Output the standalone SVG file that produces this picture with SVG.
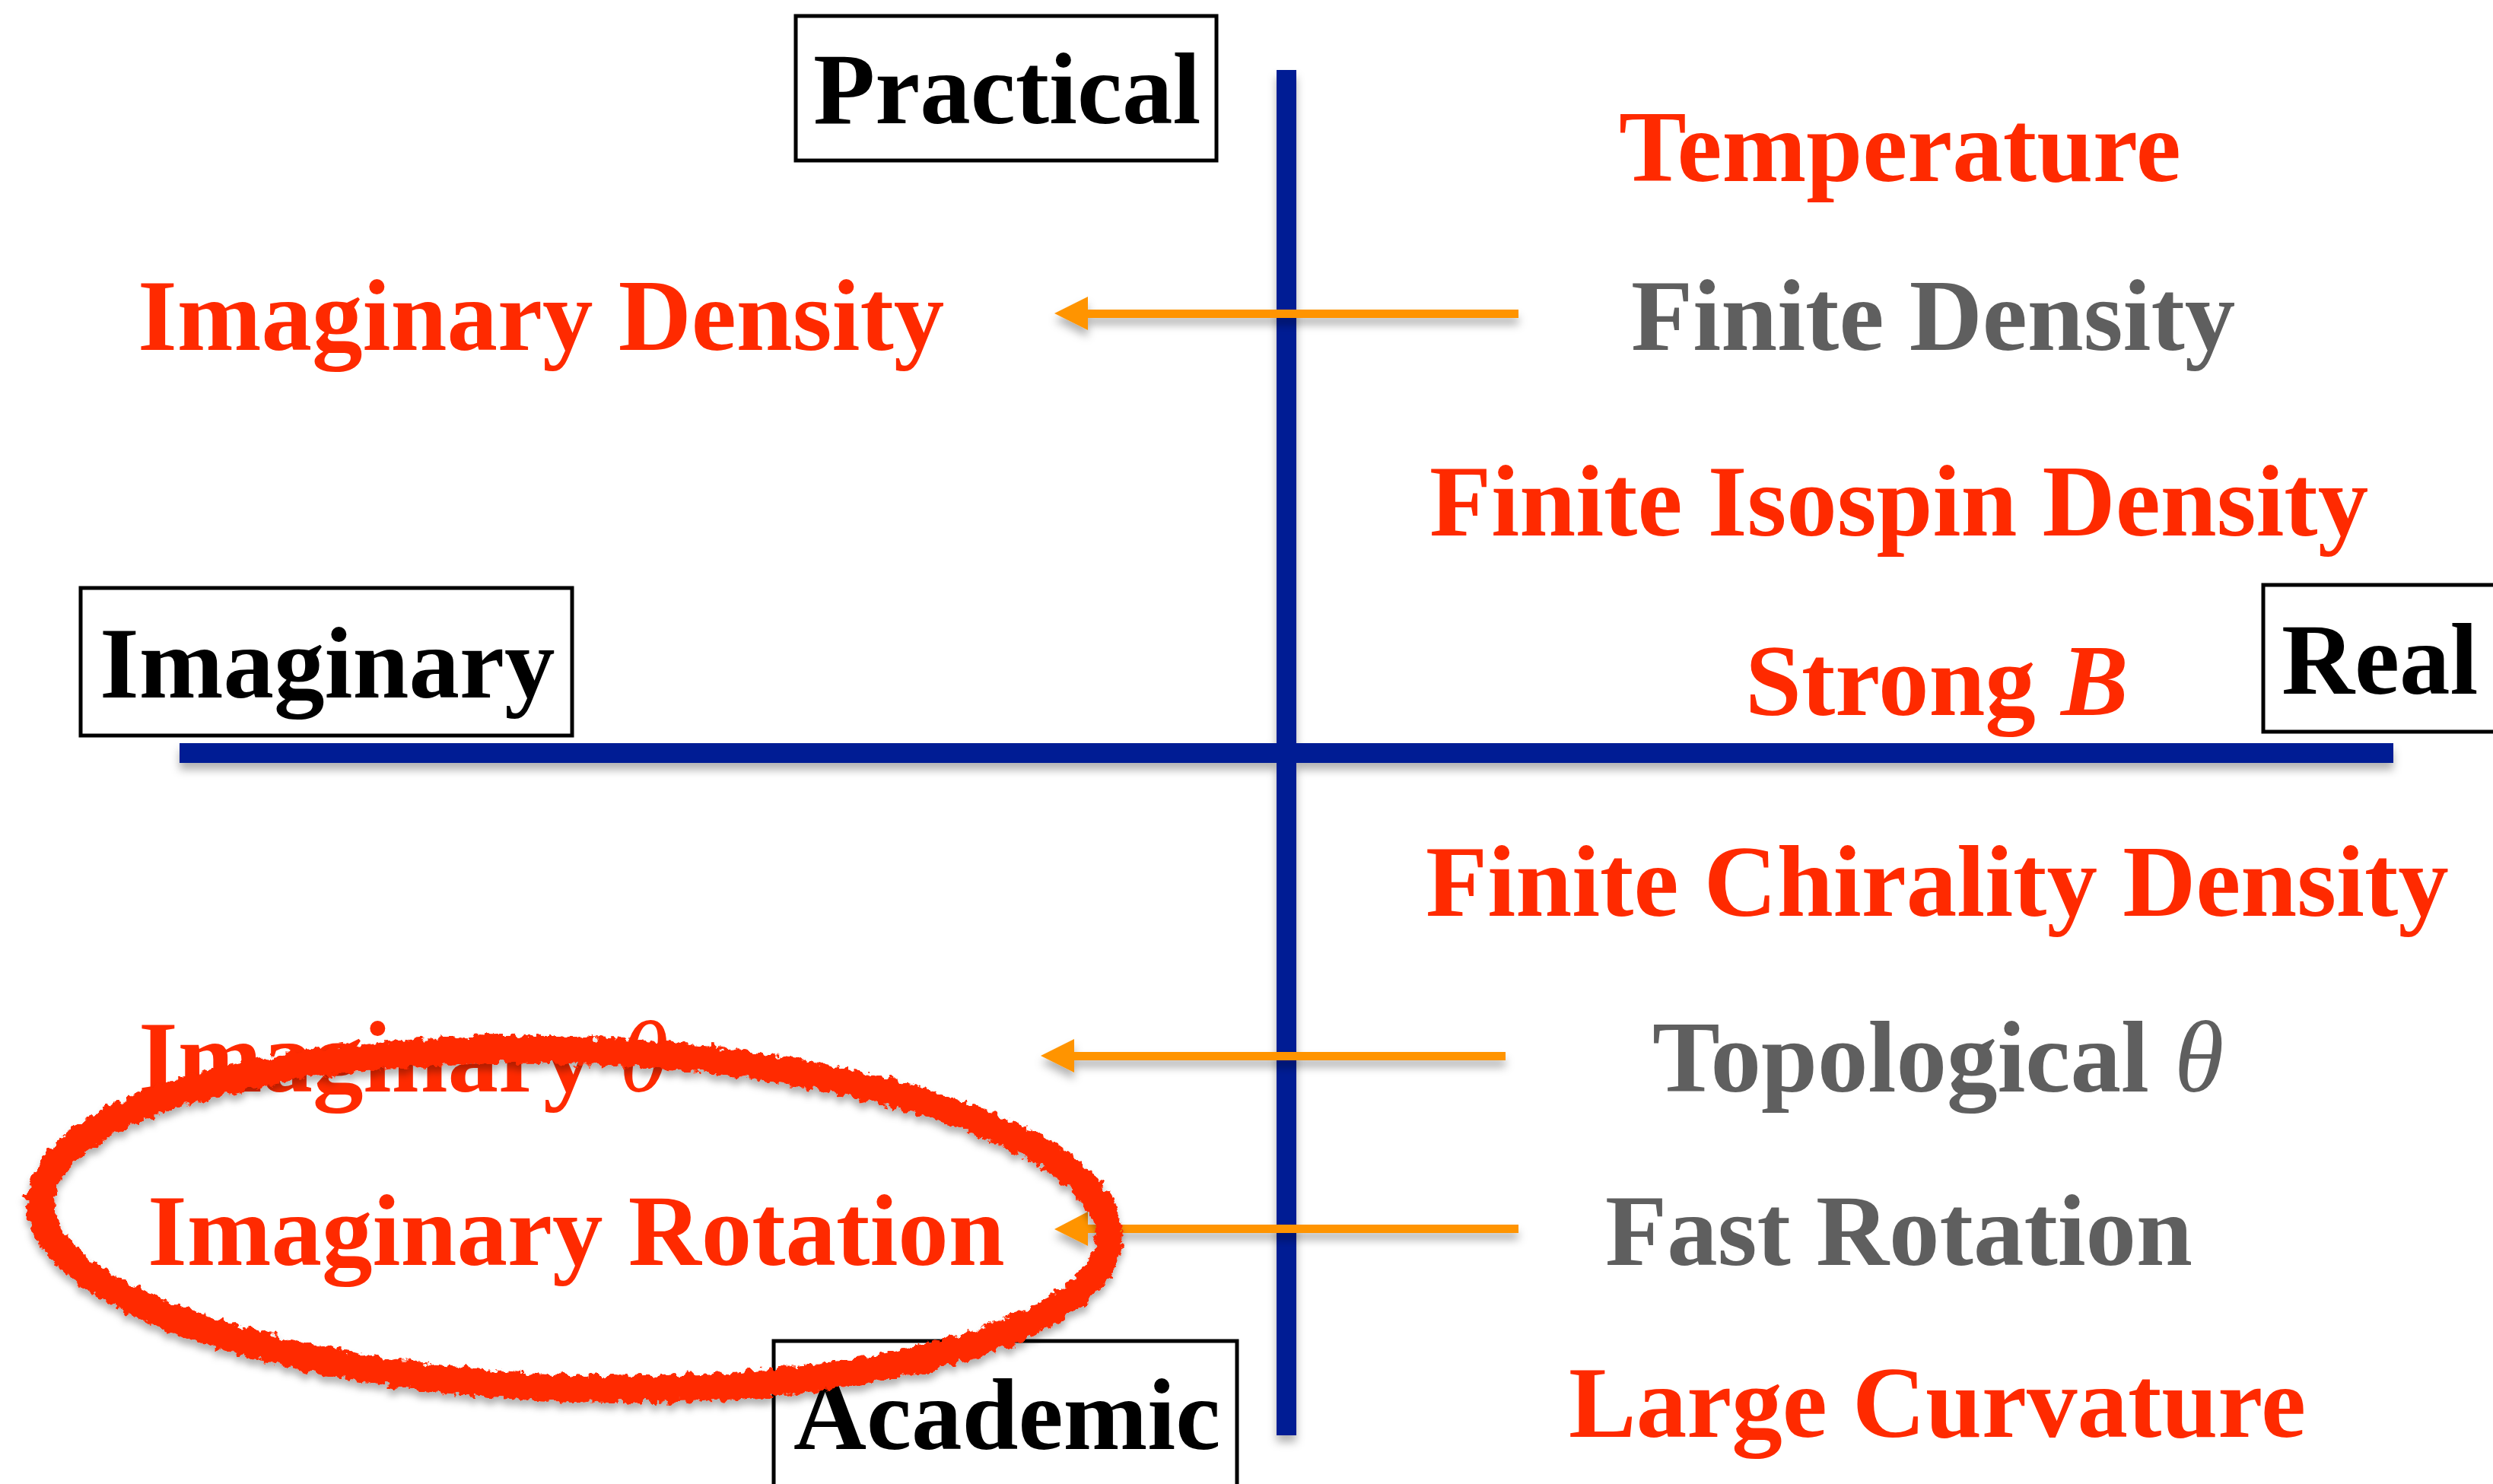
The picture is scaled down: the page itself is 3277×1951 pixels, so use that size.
<svg xmlns="http://www.w3.org/2000/svg" width="3277" height="1951" viewBox="0 0 3277 1951">
<style>
  text { font-family: "Liberation Serif", "Times New Roman", serif; font-weight: bold; font-size: 133px; }
  .red { fill: #ff2a00; }
  .gray { fill: #5f5f5f; }
  .blk { fill: #000000; }
  .box { fill: #ffffff; stroke: #000000; stroke-width: 5; }
  .axis { fill: #001a94; }
  .arrow { fill: #ff9400; }
  .it { font-style: italic; }
  .th { font-style: italic; font-weight: normal; }
</style>
<defs>
  <filter id="shadow" x="-10%" y="-50%" width="120%" height="200%">
    <feDropShadow dx="0" dy="9" stdDeviation="6" flood-color="#000000" flood-opacity="0.3"/>
  </filter>
  <filter id="rough" x="-10%" y="-20%" width="120%" height="140%">
    <feTurbulence type="fractalNoise" baseFrequency="0.09" numOctaves="3" seed="4" result="n"/>
    <feDisplacementMap in="SourceGraphic" in2="n" scale="16" xChannelSelector="R" yChannelSelector="G" result="d"/>
    <feDropShadow dx="0" dy="8" stdDeviation="5" flood-color="#000000" flood-opacity="0.3"/>
  </filter>
</defs>
<rect x="0" y="0" width="3277" height="1951" fill="#ffffff"/>

<g id="axes" filter="url(#shadow)">
  <rect class="axis" x="236" y="977" width="2910" height="26"/>
  <rect class="axis" x="1678" y="92" width="26" height="1795"/>
</g>

<g id="node-practical">
  <rect class="box" x="1046" y="21" width="553" height="190"/>
  <text class="blk" x="1069" y="162">Practical</text>
</g>
<g id="node-imaginary">
  <rect class="box" x="106" y="773" width="646" height="194"/>
  <text class="blk" x="131" y="917">Imaginary</text>
</g>
<g id="node-real">
  <rect class="box" x="2975" y="769" width="400" height="193"/>
  <text class="blk" x="2999" y="912">Real</text>
</g>
<g id="node-academic">
  <rect class="box" x="1017" y="1763" width="609" height="260"/>
  <text class="blk" x="1043" y="1905">Academic</text>
</g>

<g id="node-temperature"><text class="red" x="2128" y="238">Temperature</text></g>
<g id="node-finite-density"><text class="gray" x="2144" y="460">Finite Density</text></g>
<g id="node-imaginary-density"><text class="red" x="181" y="460">Imaginary Density</text></g>
<g id="node-isospin"><text class="red" x="1879" y="704">Finite Isospin Density</text></g>
<g id="node-strong-b"><text class="red" x="2294" y="940">Strong <tspan class="it">B</tspan></text></g>
<g id="node-chirality"><text class="red" x="1874" y="1204">Finite Chirality Density</text></g>
<g id="node-topological"><text class="gray" x="2172" y="1435">Topological <tspan class="th">θ</tspan></text></g>
<g id="node-imaginary-theta"><text class="red" x="182" y="1435">Imaginary <tspan class="th">θ</tspan></text></g>
<g id="node-fast-rotation"><text class="gray" x="2110" y="1663">Fast Rotation</text></g>
<g id="node-imaginary-rotation"><text class="red" x="194" y="1663">Imaginary Rotation</text></g>
<g id="node-large-curvature"><text class="red" x="2062" y="1889">Large Curvature</text></g>

<g id="connectors" filter="url(#shadow)">
  <path class="arrow" d="M1996,407 L1430,407 L1430,390 L1386,412 L1430,434 L1430,418 L1996,418 Z"/>
  <path class="arrow" d="M1979,1383 L1412,1383 L1412,1366 L1368,1388 L1412,1410 L1412,1394 L1979,1394 Z"/>
  <path class="arrow" d="M1996,1610 L1430,1610 L1430,1593 L1386,1616 L1430,1638 L1430,1621 L1996,1621 Z"/>
</g>

<g id="highlight-ellipse" filter="url(#rough)">
  <ellipse cx="755" cy="1603" rx="703" ry="222" fill="none" stroke="#ff2a00" stroke-width="36" transform="rotate(2 755 1603)"/>
</g>
</svg>
